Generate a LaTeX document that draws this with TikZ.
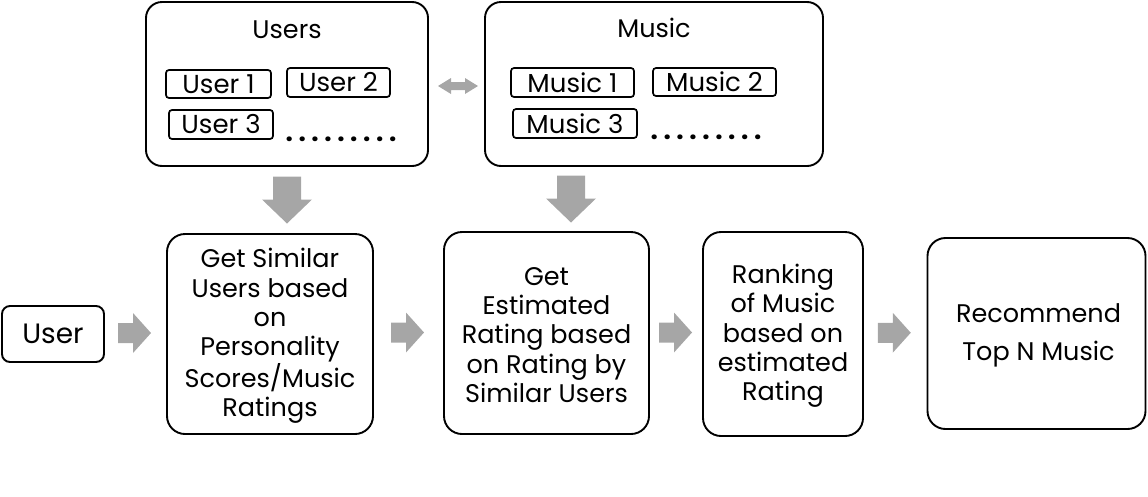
\documentclass[tikz,border=0pt]{standalone}
\usepackage{fontspec}
\setmainfont{Poppins}
\usetikzlibrary{calc}
\definecolor{arrowgray}{HTML}{A6A6A6}
\tikzset{
  bigbox/.style={draw=black, line width=1.9pt, rounded corners=18pt, inner sep=0pt},
  boxtext/.style={align=center, inner sep=0pt, font=\fontsize{25.5}{29.3}\selectfont},
  groupbox/.style={draw=black, line width=1.9pt, rounded corners=16pt, inner sep=0pt},
  itembox/.style={draw=black, line width=1.7pt, rounded corners=3pt, inner sep=0pt,
    font=\fontsize{26}{28}\selectfont},
  title/.style={inner sep=0pt, font=\fontsize{25.5}{30}\selectfont},
  dotrow/.style={inner sep=0pt, font=\fontsize{26}{28}\selectfont\bfseries},
  rarrow/.pic={\fill[arrowgray] (-16.5,-10) -- (-1.5,-10) -- (-1.5,-20) -- (16.5,0) -- (-1.5,20) -- (-1.5,10) -- (-16.5,10) -- cycle;},
  darrow/.pic={\fill[arrowgray] (-14,-23.5) -- (14,-23.5) -- (14,-0.5) -- (25,-0.5) -- (0,23.5) -- (-25,-0.5) -- (-14,-0.5) -- cycle;},
  dblarrow/.pic={\fill[arrowgray] (-20,0) -- (-7,-8) -- (-7,-4) -- (7,-4) -- (7,-8) -- (20,0) -- (7,8) -- (7,4) -- (-7,4) -- (-7,8) -- cycle;}
}
\newcommand{\dotline}{.\hspace{5.6pt}.\hspace{5.6pt}.\hspace{5.6pt}.\hspace{5.6pt}.\hspace{5.6pt}.\hspace{5.6pt}.\hspace{5.6pt}.\hspace{5.6pt}.}
\begin{document}
\begin{tikzpicture}[x=1pt, y=-1pt]
\useasboundingbox (0,0) rectangle (1148,496);
% group boxes
\node[groupbox, minimum width=282pt, minimum height=164pt] (users) at (287,84) {};
\node[groupbox, minimum width=338pt, minimum height=164pt] (music) at (654,84) {};
\node[title] (userstitle) at (287,30) {Users};
\node[title] (musictitle) at (654,28) {Music};
% items
\node[itembox, minimum width=105pt, minimum height=28pt] (u1) at (218.5,84) {User 1};
\node[itembox, minimum width=103pt, minimum height=29pt] (u2) at (338.5,82.5) {User 2};
\node[itembox, minimum width=104pt, minimum height=29pt] (u3) at (221,124.5) {User 3};
\node[dotrow, anchor=base] (udots) at (341,141) {\dotline};
\node[itembox, minimum width=123pt, minimum height=29pt] (m1) at (572.5,82.5) {Music 1};
\node[itembox, minimum width=123pt, minimum height=28pt] (m2) at (714.5,82) {Music 2};
\node[itembox, minimum width=124pt, minimum height=29pt] (m3) at (575,123.5) {Music 3};
\node[dotrow, anchor=base] (mdots) at (706,139) {\dotline};
% bottom row
\node[draw=black, line width=1.9pt, rounded corners=8pt, inner sep=0pt, minimum width=102pt, minimum height=56pt,
  font=\fontsize{28}{32}\selectfont] (user) at (53,334) {User};
\node[bigbox, minimum width=206pt, minimum height=200pt] (b2) at (270,334) {};
\node[bigbox, minimum width=205pt, minimum height=202pt] (b3) at (546.5,333) {};
\node[bigbox, minimum width=160pt, minimum height=204pt] (b4) at (783,334) {};
\node[bigbox, minimum width=218pt, minimum height=191pt] (b5) at (1036.5,333.5) {};
\node[boxtext] (t2) at ($(b2.center)+(0,2)$) {Get Similar\\Users based\\on\\Personality\\Scores/Music\\Ratings};
\node[boxtext] (t3) at ($(b3.center)+(0,2)$) {Get\\Estimated\\Rating based\\on Rating by\\Similar Users};
\node[boxtext] (t4) at ($(b4.center)+(0,2)$) {Ranking\\of Music\\based on\\estimated\\Rating};
\node[boxtext] (t5) at ($(b5.center)+(2,2)$) {Recommend\\[9pt]Top N Music};
% block arrows
\pic at ($(users.east)!0.5!(music.west)+(1.5,2)$) {dblarrow};
\pic at ($(users.south)!0.5!(users.south|-b2.north)$) {darrow};
\pic at ($(m1.south|-music.south)!0.5!(m1.south|-b3.north)+(-1.5,0)$) {darrow};
\pic at ($(user.east)!0.5!(b2.west)+(-1,-1)$) {rarrow};
\pic at ($(b2.east)!0.5!(b3.west)+(-1,-1)$) {rarrow};
\pic at ($(b3.east)!0.5!(b4.west)+(-0.5,-1)$) {rarrow};
\pic at ($(b4.east)!0.5!(b5.west)+(-1,-1)$) {rarrow};
\end{tikzpicture}
\end{document}
